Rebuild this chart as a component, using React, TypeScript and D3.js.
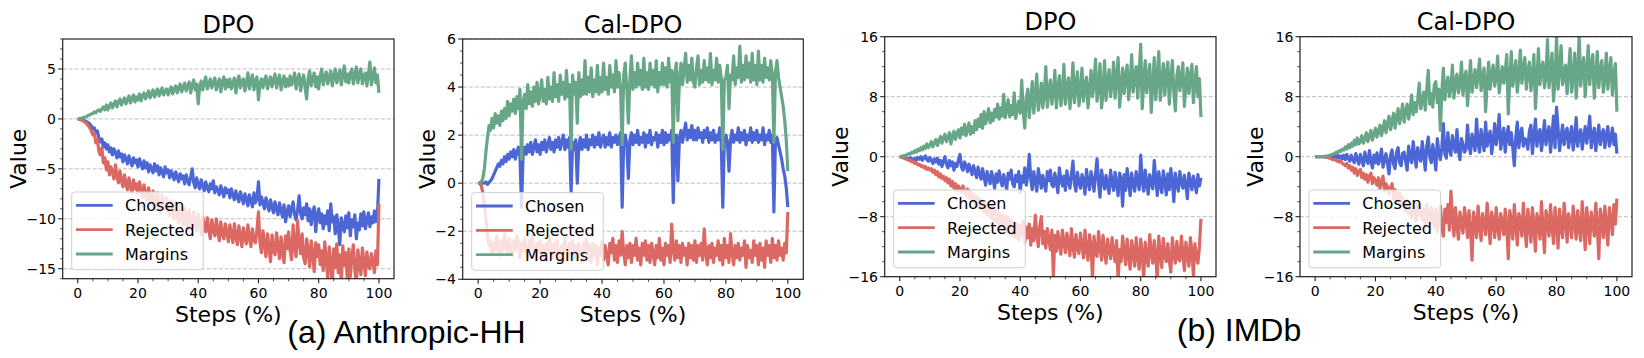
import React from "react";
import * as d3 from "d3";

// ---- data: one value every 0.5% of training (201 points per series) ----
const xTicks = [0, 20, 40, 60, 80, 100];

// Anthropic-HH / DPO
const hhDpoChosen = [
  0, -0.02, -0.05, -0.1, -0.15, -0.2, -0.3, -0.4, -0.5, -0.7, -1.0, -0.9, -1.4, -1.2, -1.9, -2.3, -2.0, -2.8, -2.4, -3.0,
  -2.6, -3.3, -2.9, -3.6, -3.0, -3.4, -3.9, -3.2, -3.8, -3.5, -4.3, -3.6, -4.0, -4.5, -3.7, -4.2, -4.7, -3.9, -4.4, -4.1,
  -4.8, -4.0, -4.5, -5.0, -4.2, -4.9, -4.4, -5.3, -4.6, -5.0, -5.4, -4.5, -5.2, -4.7, -5.6, -4.9, -5.3, -5.8, -4.8, -5.4,
  -5.1, -5.9, -5.2, -5.6, -6.1, -5.3, -5.8, -6.3, -5.5, -6.0, -5.7, -6.5, -5.6, -6.2, -6.6, -5.8, -5.0, -6.4, -6.9, -5.9,
  -6.6, -7.0, -6.1, -6.7, -7.2, -6.3, -6.9, -7.3, -6.5, -7.0, -6.2, -7.4, -6.8, -7.1, -7.6, -6.7, -7.2, -7.8, -6.9, -7.4,
  -7.1, -7.9, -7.0, -7.6, -8.1, -7.2, -7.8, -8.3, -7.3, -7.9, -8.5, -7.5, -8.0, -8.7, -7.6, -8.2, -8.8, -7.4, -8.4, -8.0,
  -6.3, -8.6, -7.8, -8.4, -9.0, -7.9, -8.6, -9.2, -8.1, -8.8, -9.4, -8.3, -9.0, -9.6, -8.4, -9.2, -9.8, -8.6, -10.3, -9.3,
  -8.7, -9.8, -9.0, -8.3, -9.6, -10.1, -9.1, -7.7, -9.5, -10.0, -8.9, -9.6, -8.5, -10.2, -9.0, -10.6, -9.4, -8.8, -11.3, -9.6,
  -9.0, -10.4, -9.5, -11.0, -9.7, -10.5, -9.2, -11.2, -8.5, -10.3, -9.8, -11.5, -9.6, -10.8, -12.6, -9.9, -10.6, -11.3, -9.7, -10.9,
  -9.4, -11.7, -10.1, -10.8, -9.6, -12.0, -10.4, -11.1, -9.5, -10.7, -9.3, -11.0, -10.2, -9.4, -10.8, -9.8, -10.4, -9.2, -10.3, -9.6,
  -6.0,
];
const hhDpoRejected = [
  0, -0.03, -0.08, -0.15, -0.25, -0.35, -0.5, -0.7, -0.9, -1.2, -1.6, -1.4, -2.4, -2.0, -3.2, -3.6, -2.9, -4.4, -3.9, -5.1,
  -4.3, -5.6, -4.8, -5.3, -6.0, -4.6, -5.7, -6.4, -5.2, -6.2, -6.8, -5.6, -6.5, -7.1, -5.9, -6.7, -7.4, -6.1, -7.0, -6.5,
  -7.5, -6.3, -7.1, -7.9, -6.6, -7.6, -8.2, -6.9, -7.8, -8.5, -7.2, -8.0, -8.9, -7.4, -8.6, -9.4, -7.6, -8.7, -9.1, -7.9,
  -9.0, -9.7, -8.2, -9.2, -10.0, -8.4, -9.5, -10.4, -8.7, -9.8, -10.6, -8.9, -10.1, -11.0, -9.1, -10.3, -10.8, -9.3, -10.5, -11.2,
  -9.5, -10.6, -11.6, -9.8, -10.9, -11.3, -9.9, -11.0, -12.0, -10.1, -11.2, -11.7, -10.0, -11.3, -12.2, -10.3, -11.5, -12.0, -10.5, -11.4,
  -12.3, -10.6, -11.6, -12.4, -10.5, -11.8, -12.6, -10.7, -11.7, -12.8, -10.9, -12.0, -12.5, -10.6, -11.9, -12.8, -11.0, -12.2, -12.4, -11.1,
  -9.3, -12.4, -13.4, -11.2, -12.6, -13.8, -11.5, -12.9, -14.3, -11.6, -13.2, -13.6, -11.4, -12.8, -14.0, -11.8, -13.3, -14.4, -11.7, -13.0,
  -11.3, -13.2, -14.1, -10.6, -12.9, -13.8, -10.2, -12.4, -13.5, -11.5, -13.9, -14.5, -12.0, -13.3, -14.8, -12.2, -13.6, -15.3, -12.4, -13.8,
  -12.6, -14.6, -13.2, -15.2, -12.3, -14.1, -16.0, -12.8, -14.4, -16.8, -13.0, -14.9, -12.5, -15.4, -13.6, -16.5, -12.7, -14.7, -13.4, -16.2,
  -13.0, -15.8, -13.8, -12.6, -15.1, -16.6, -13.1, -14.6, -15.6, -12.9, -14.3, -15.7, -13.3, -14.8, -15.0, -13.5, -14.2, -15.4, -13.2, -14.6,
  -8.5,
];
const hhDpoMargins = [
  0, 0.02, 0.05, 0.1, 0.15, 0.2, 0.25, 0.35, 0.4, 0.5, 0.55, 0.7, 0.6, 0.8, 0.9, 0.75, 1.0, 1.2, 0.9, 1.4,
  0.9, 1.3, 1.6, 1.1, 1.5, 1.8, 1.2, 1.7, 2.0, 1.4, 1.8, 2.1, 1.5, 1.9, 2.3, 1.6, 2.0, 2.4, 1.7, 2.2,
  1.9, 2.5, 1.8, 2.3, 2.6, 2.0, 2.4, 2.8, 2.1, 2.5, 2.9, 2.2, 2.6, 3.0, 2.3, 2.7, 3.1, 2.4, 2.8, 3.0,
  2.4, 2.9, 3.2, 2.5, 3.0, 3.3, 2.6, 3.1, 3.5, 2.7, 3.2, 3.6, 2.8, 3.3, 3.7, 2.6, 3.4, 3.9, 2.9, 3.5,
  1.5, 3.3, 3.8, 2.9, 3.6, 4.2, 3.0, 3.5, 4.0, 3.1, 3.7, 4.1, 2.9, 3.6, 4.0, 2.7, 3.7, 4.2, 3.0, 3.9,
  3.2, 4.0, 3.0, 3.6, 4.1, 2.6, 3.7, 4.3, 3.1, 3.8, 4.0, 2.8, 3.6, 4.6, 3.0, 3.9, 4.4, 2.9, 3.8, 4.2,
  1.9, 3.6, 4.0, 3.1, 3.9, 4.3, 3.0, 3.7, 4.2, 3.2, 3.9, 4.5, 3.1, 3.8, 4.4, 2.9, 3.7, 4.3, 3.2, 4.0,
  3.3, 4.3, 3.4, 3.9, 4.6, 3.0, 4.0, 4.5, 2.8, 3.8, 4.4, 3.1, 2.0, 4.1, 4.8, 3.3, 4.0, 4.6, 3.2, 4.2,
  3.0, 4.3, 5.0, 3.4, 4.1, 4.7, 3.5, 4.2, 4.8, 3.3, 4.3, 5.0, 3.6, 4.2, 4.9, 3.4, 4.4, 5.3, 3.7, 4.5,
  3.6, 4.6, 5.0, 3.5, 4.4, 5.2, 3.6, 4.5, 5.0, 3.5, 4.3, 4.6, 3.3, 4.5, 5.7, 3.4, 4.2, 5.1, 3.6, 4.4,
  2.6,
];

// Anthropic-HH / Cal-DPO
const hhCalChosen = [
  0, 0, 0, 0.02, 0, 0.05, -0.05, 0.03, 0.1, 0.2, 0.35, 0.5, 0.65, 0.8, 0.7, 0.95, 0.8, 1.1, 0.9, 1.2,
  1.0, 1.3, 1.1, 1.4, 1.0, 1.3, 1.5, 1.1, -1.0, 1.2, 1.5, 1.2, 1.6, 1.3, 1.7, 1.2, 1.5, 1.8, 1.3, 1.6,
  1.2, 1.7, 1.4, 1.8, 1.3, 1.6, 1.9, 1.4, 1.7, 1.3, 1.8, 1.5, 1.9, 1.4, 1.7, 2.0, 1.4, 1.8, 1.5, 1.9,
  -0.4, 1.7, 1.4, 1.8, 0.0, 1.6, 1.9, 1.4, 1.8, 1.5, 2.0, 1.4, 1.8, 1.6, 2.0, 1.5, 1.9, 1.6, 2.1, 1.5,
  1.8, 2.0, 1.5, 1.9, 1.6, 2.1, 1.5, 1.9, 1.7, 2.0, 1.6, 1.9, 2.1, -1.0, 1.7, 2.0, 1.6, 0.2, 1.8, 2.1,
  1.6, 2.0, 1.7, 2.2, 1.6, 1.9, 1.7, 2.1, 1.5, 2.0, 1.7, 2.2, 1.6, 1.9, 1.8, 2.1, 1.5, 2.0, 1.7, 2.2,
  1.6, 2.1, 1.7, 2.0, 1.8, 2.2, -0.8, 1.8, 2.0, 0.1, 1.9, 2.2, 1.7, 2.1, 2.5, 1.8, 2.2, 1.9, 2.4, 1.8,
  2.2, 1.8, 2.3, 1.9, 2.1, 1.7, 2.2, 1.9, 2.3, 1.7, 2.1, 1.8, 2.2, 1.7, 2.0, 1.8, 2.3, 1.7, -1.0, 1.8,
  2.0, 1.7, 0.5, 1.8, 2.2, 1.7, 2.0, 1.8, 2.3, 1.7, 2.1, 1.8, 2.2, 1.6, 2.0, 1.8, 2.3, 1.7, 2.1, 1.8,
  2.2, 1.7, 2.0, 1.8, 2.3, 1.6, 2.0, 1.8, 2.2, 1.7, 2.0, -1.2, 1.8, 1.9, 1.6, 1.3, 1.0, 0.6, 0.3, -0.2,
  -1.0,
];
const hhCalRejected = [
  0, 0, -0.1, -0.4, -0.9, -1.5, -2.1, -2.6, -2.4, -2.9, -2.5, -2.8, -2.2, -2.7, -3.0, -2.4, -2.8, -2.1, -2.6, -2.9,
  -2.3, -2.7, -3.0, -2.4, -2.8, -2.2, -2.6, -3.1, -2.5, -2.8, -2.3, -2.9, -3.1, -2.4, -2.7, -2.2, -2.9, -3.2, -2.5, -2.8,
  -2.4, -3.0, -2.6, -3.2, -2.5, -2.9, -2.2, -2.8, -3.1, -2.5, -2.9, -2.4, -3.0, -3.3, -2.6, -2.9, -2.3, -2.8, -3.2, -2.5,
  -2.9, -2.4, -3.1, -2.6, -3.2, -2.5, -2.9, -3.3, -2.5, -2.8, -2.3, -3.1, -2.6, -3.3, -2.5, -3.0, -2.6, -3.4, -2.7, -3.0,
  -2.4, -3.2, -2.6, -3.0, -3.4, -2.5, -2.9, -2.3, -3.2, -2.6, -3.3, -2.4, -3.0, -2.0, -2.9, -3.4, -2.6, -3.1, -2.5, -3.3,
  -2.6, -3.0, -2.3, -3.2, -2.7, -3.4, -2.5, -3.0, -2.4, -3.2, -2.6, -3.3, -2.5, -2.9, -3.4, -2.6, -3.1, -2.3, -3.2, -2.7,
  -3.4, -2.5, -3.0, -2.6, -3.3, -1.7, -2.8, -3.2, -2.4, -3.1, -2.6, -3.3, -2.5, -3.0, -2.7, -3.4, -2.5, -3.1, -2.6, -3.2,
  -2.4, -3.3, -2.6, -3.0, -2.5, -3.2, -1.9, -2.9, -3.4, -2.6, -3.1, -2.5, -3.3, -2.7, -3.0, -2.4, -3.2, -2.6, -3.4, -2.3,
  -3.1, -2.6, -3.3, -2.1, -2.9, -3.4, -2.6, -3.1, -2.5, -3.2, -2.7, -3.0, -2.4, -3.5, -2.6, -3.1, -2.8, -3.3, -2.4, -3.0,
  -2.6, -3.4, -2.5, -3.2, -2.7, -3.5, -2.4, -3.0, -2.6, -3.3, -2.3, -3.1, -2.6, -3.2, -2.4, -3.0, -2.7, -3.2, -2.5, -2.9,
  -1.2,
];
const hhCalMargins = [
  0, 0, 0.05, 0.2, 0.6, 1.3, 1.9, 2.4, 2.2, 2.7, 2.3, 2.9, 2.5, 2.8, 2.4, 3.0, 2.6, 3.1, 2.7, 3.4,
  2.8, 3.3, 3.0, 3.5, 2.9, 3.6, 3.1, 3.9, 1.0, 3.4, 3.7, 3.1, 4.1, 3.3, 3.8, 3.2, 4.0, 3.4, 4.2, 3.3,
  3.7, 4.3, 3.4, 3.9, 3.3, 4.4, 3.5, 4.0, 3.4, 4.6, 3.6, 4.1, 3.4, 4.5, 3.7, 4.2, 3.5, 4.7, 3.6, 4.1,
  1.4, 4.5, 3.7, 4.2, 2.5, 4.6, 3.6, 4.3, 3.7, 5.1, 3.7, 4.4, 3.8, 4.8, 3.6, 4.3, 3.8, 4.9, 3.7, 4.4,
  3.8, 5.0, 3.9, 4.4, 3.7, 4.9, 4.0, 4.5, 3.8, 5.1, 4.0, 4.6, 3.9, 1.6, 4.5, 5.0, 3.9, 2.5, 4.3, 5.3,
  3.9, 4.6, 4.0, 5.0, 4.1, 4.7, 3.9, 5.2, 4.0, 4.6, 3.9, 5.0, 4.1, 4.7, 4.0, 5.1, 3.8, 4.6, 4.1, 5.0,
  4.1, 4.8, 4.0, 5.2, 4.2, 4.7, 1.7, 4.5, 5.0, 2.6, 4.3, 5.0, 4.1, 4.8, 5.4, 4.2, 4.9, 4.3, 5.2, 4.2,
  4.0, 4.8, 5.3, 4.1, 4.7, 4.2, 5.1, 4.3, 4.8, 4.2, 5.4, 4.1, 4.7, 4.3, 5.2, 4.2, 4.9, 4.4, 1.4, 4.3,
  4.4, 4.9, 3.1, 4.5, 4.3, 5.3, 4.1, 4.8, 4.4, 5.7, 4.2, 4.9, 4.3, 5.3, 4.4, 5.0, 4.2, 5.4, 4.3, 4.9,
  4.1, 5.5, 4.3, 4.9, 4.2, 5.2, 4.4, 4.8, 4.3, 5.1, 4.5, 1.7, 4.6, 5.1, 4.4, 4.0, 3.6, 3.2, 2.6, 1.8,
  0.5,
];

// IMDb / DPO
const imdbDpoChosen = [
  0, -0.02, -0.05, -0.1, -0.15, -0.2, -0.25, -0.15, -0.3, -0.4, -0.2, -0.45, -0.1, -0.35, 0.0, -0.5, -0.2, 0.1, -0.4, -0.6,
  -0.1, -0.5, -0.9, -0.3, -0.7, -0.2, -1.0, -0.5, -1.3, -0.6, 0.0, -1.0, -1.5, -0.5, -1.2, -0.7, -1.8, -0.9, -1.3, -0.4,
  0.3, -1.4, -1.8, -0.7, -1.2, -2.0, -1.0, -1.6, -2.4, -1.2, -2.0, -2.8, -1.4, -2.2, -3.0, -1.6, -2.6, -3.8, -2.0, -2.8,
  -3.6, -2.0, -3.0, -4.2, -2.3, -3.4, -1.9, -3.0, -3.9, -2.4, -3.2, -4.4, -2.2, -3.0, -1.8, -3.6, -4.0, -2.5, -3.3, -2.0,
  -4.8, -2.6, -3.4, -1.5, -3.8, -2.4, 0.3, -3.0, -4.4, -2.0, -3.2, -4.6, -1.6, -2.8, -4.2, -2.5, -3.6, -4.6, -2.0, -3.2,
  -1.8, -3.8, -4.0, -2.2, -3.4, -4.8, -1.5, -3.0, -3.9, -2.6, -4.5, -1.9, -3.2, -4.2, -2.4, -0.6, -3.6, -4.6, -2.1, -3.4,
  -4.2, -2.4, -3.2, -5.0, -1.7, -3.4, -4.4, -2.0, -3.0, -4.6, -2.3, -0.3, -3.6, -5.4, -1.8, -3.2, -4.3, -2.5, -3.8, -4.9,
  -1.8, -3.4, -4.5, -2.1, -3.6, -5.2, -2.2, -3.0, -6.6, -2.4, -4.5, -1.6, -3.3, -5.2, -2.2, -3.7, -4.6, -2.0, -3.4, -4.4,
  0.2, -3.2, -4.6, -1.8, -3.6, -5.0, -2.4, -3.5, -4.3, -0.5, -3.0, -5.2, -2.0, -3.8, -4.8, -1.9, -3.3, -5.1, -2.3, -4.4,
  -1.6, -3.2, -6.0, -2.2, -3.6, -4.6, -2.0, -3.4, -4.2, -2.5, -3.8, -5.6, -2.2, -3.2, -4.4, -2.6, -3.6, -4.8, -2.4, -3.9,
  -2.8,
];
const imdbDpoRejected = [
  0, -0.05, -0.1, -0.2, -0.3, -0.35, -0.5, -0.45, -0.7, -0.6, -0.9, -0.8, -1.1, -1.0, -1.3, -1.2, -1.5, -1.3, -1.7, -1.5,
  -1.8, -1.6, -2.1, -1.8, -2.4, -2.0, -2.7, -2.3, -2.9, -2.6, -3.2, -2.8, -3.5, -3.0, -3.9, -3.3, -4.2, -3.6, -4.5, -3.9,
  -4.3, -4.7, -3.9, -4.8, -5.2, -4.3, -5.5, -4.6, -5.8, -5.0, -6.3, -5.3, -6.6, -5.6, -7.0, -5.9, -7.3, -6.2, -7.7, -6.5,
  -7.0, -8.2, -6.8, -8.6, -7.2, -8.9, -7.5, -9.3, -7.8, -9.7, -8.0, -10.0, -8.2, -10.3, -8.5, -10.6, -8.8, -10.8, -9.0, -11.2,
  -9.2, -10.4, -8.6, -11.5, -9.4, -10.8, -9.0, -11.8, -9.6, -11.2, -7.8, -10.4, -12.0, -9.2, -8.0, -11.6, -10.0, -12.2, -9.6, -11.0,
  -12.4, -9.8, -16.0, -10.5, -12.6, -10.0, -11.8, -13.0, -9.8, -11.4, -12.8, -10.2, -11.6, -13.2, -9.6, -12.0, -13.4, -10.4, -12.2, -12.9,
  -10.2, -11.8, -13.5, -9.8, -12.4, -13.8, -10.4, -12.0, -16.2, -10.6, -12.8, -13.3, -10.0, -11.9, -13.8, -10.5, -12.6, -14.2, -11.0, -12.4,
  -13.6, -10.8, -12.8, -14.0, -11.2, -16.5, -12.4, -14.0, -10.6, -12.6, -14.4, -11.0, -13.2, -15.0, -11.2, -12.8, -14.6, -10.8, -13.4, -15.0,
  -11.0, -13.0, -16.3, -11.4, -13.6, -14.6, -10.4, -12.8, -14.2, -11.2, -13.4, -16.4, -10.6, -12.9, -14.8, -10.9, -13.2, -14.0, -11.6, -13.8,
  -15.4, -10.8, -13.0, -14.2, -11.3, -13.6, -13.9, -10.6, -12.8, -15.2, -11.4, -13.0, -14.6, -10.8, -12.6, -15.8, -11.6, -13.4, -14.2, -12.0,
  -8.3,
];
const imdbDpoMargins = [
  0, 0.05, 0.1, 0.15, 0.2, 0.3, 0.4, 0.35, 0.6, 0.5, 0.8, 0.6, 1.0, 0.8, 1.2, 0.9, 1.4, 1.1, 1.7, 1.2,
  1.5, 2.0, 1.3, 1.8, 2.3, 1.5, 2.1, 2.7, 1.8, 2.5, 3.0, 2.0, 2.6, 3.2, 1.7, 2.8, 3.4, 2.3, 3.1, 3.6,
  2.5, 3.8, 3.0, 4.3, 2.8, 3.6, 4.5, 3.0, 4.0, 3.2, 4.8, 3.6, 5.0, 4.0, 5.6, 3.8, 6.0, 4.4, 5.2, 6.4,
  4.5, 5.8, 4.8, 6.3, 5.3, 7.0, 5.0, 6.5, 5.4, 8.3, 5.2, 6.2, 7.6, 5.3, 6.8, 5.6, 8.5, 5.1, 6.4, 7.4,
  5.8, 10.2, 6.0, 3.8, 7.8, 9.0, 5.2, 7.5, 10.0, 5.8, 8.2, 11.0, 6.2, 7.6, 9.8, 6.5, 8.4, 12.0, 6.6, 8.8,
  10.2, 7.0, 8.6, 11.5, 6.5, 9.0, 10.8, 6.8, 8.4, 12.3, 7.0, 9.2, 10.5, 6.4, 8.8, 12.5, 7.2, 9.4, 11.3, 6.8,
  8.6, 11.8, 7.4, 9.6, 10.6, 6.5, 8.8, 11.5, 8.0, 9.8, 13.0, 7.4, 9.2, 12.4, 6.5, 8.6, 12.8, 7.5, 10.0, 11.6,
  8.0, 9.6, 12.6, 7.8, 10.4, 13.2, 6.6, 9.4, 11.8, 8.4, 10.8, 12.2, 7.6, 9.8, 13.6, 8.6, 10.6, 12.0, 7.8, 11.2,
  15.0, 6.4, 9.8, 12.8, 8.5, 10.6, 12.3, 5.9, 9.6, 13.2, 7.6, 10.4, 14.0, 7.5, 9.8, 12.4, 8.2, 11.0, 12.6, 7.0,
  10.2, 12.8, 8.6, 6.1, 10.8, 12.0, 8.8, 10.4, 12.5, 6.7, 9.6, 11.8, 8.4, 10.6, 12.3, 7.2, 9.8, 12.0, 8.0, 10.4,
  5.3,
];

// IMDb / Cal-DPO
const imdbCalChosen = [
  0, 0, 0, 0, 0, 0, 0, 0.02, -0.02, 0.05, -0.05, 0.1, -0.1, 0.15, -0.15, 0.2, -0.2, 0.1, -0.3, 0.2,
  -0.4, 0.3, -0.2, -0.6, 0.2, -0.4, -0.8, 0.4, -0.3, -1.0, 0.3, -0.5, -1.2, 0.6, -0.4, -0.9, 0.8, -0.6, -1.5, 0.2,
  -0.8, 0.5, -1.0, -0.2, 1.0, -1.4, -0.4, 0.4, -0.9, -2.3, 0.2, 0.9, -1.0, -1.6, 0.6, 1.2, -0.8, -1.2, 0.4, 0.6,
  -0.6, -1.8, 1.4, -0.2, -0.8, 2.0, 0.2, -1.4, 1.2, 0.0, -0.6, 2.0, 0.4, -1.8, 1.4, 2.6, 0.0, -0.8, 1.6, 0.2,
  -1.8, 2.4, 0.6, -0.4, 1.2, 4.4, 0.4, -0.2, 3.2, 1.0, 0.2, 2.8, 1.4, 0.6, 3.6, 0.8, -0.4, 2.4, 1.6, 0.6,
  1.0, 4.2, 1.4, 0.4, 3.0, 2.0, 0.8, 5.0, 1.8, 0.6, 3.6, 2.2, 0.8, 4.6, 1.4, 2.6, 3.4, 0.4, 2.0, 4.4,
  1.6, 3.0, 5.6, 1.0, 2.4, 3.8, 0.6, 2.8, 4.0, 1.6, 3.2, 1.2, -1.2, 2.6, 4.6, 1.2, 3.0, 3.8, 1.4, 2.4,
  2.2, 1.0, 3.4, 4.2, 0.4, 2.8, 5.0, 1.4, 3.2, 3.6, 0.8, 2.6, 4.8, 1.6, 3.0, 4.0, 0.6, 2.8, 5.4, 1.2,
  6.6, 3.8, 0.8, 2.6, 4.2, 1.6, 3.2, 3.8, 1.2, 2.8, 4.0, 0.9, 2.4, 5.2, 1.4, 3.0, 3.6, 1.0, 2.6, 4.0,
  1.8, 3.2, 5.4, 1.2, 2.8, 3.8, 0.8, 2.6, 4.2, 1.6, 3.0, 3.6, 1.2, 2.8, 4.0, 1.4, 2.4, 3.8, 1.6, 3.0,
  0.4,
];
const imdbCalRejected = [
  0, 0, 0, 0, 0, 0, -0.02, -0.05, -0.1, -0.15, -0.2, -0.3, -0.4, -0.35, -0.5, -0.6, -0.7, -0.6, -0.9, -1.0,
  -1.2, -0.9, -1.5, -1.2, -1.8, -1.4, -2.2, -1.6, -2.5, -2.0, -1.7, -2.8, -2.2, -3.0, -2.4, -3.4, -2.6, -2.2, -3.6, -2.8,
  -3.2, -3.8, -2.8, -4.2, -3.4, -2.6, -4.6, -3.6, -4.0, -5.0, -4.2, -3.6, -5.6, -4.4, -5.8, -6.2, -4.8, -6.4, -5.4, -6.8,
  -7.2, -5.8, -7.6, -6.4, -8.2, -6.0, -7.4, -8.6, -6.2, -7.8, -6.6, -8.4, -7.0, -9.2, -6.4, -8.0, -9.0, -6.8, -8.2, -9.4,
  -7.0, -10.0, -8.2, -6.6, -9.4, -10.6, -7.0, -8.8, -6.4, -9.8, -4.6, -8.0, -10.6, -6.8, -9.2, -11.0, -7.4, -8.6, -10.2, -6.8,
  -8.4, -10.8, -7.2, -9.6, -13.8, -7.4, -8.8, -10.8, -6.6, -9.2, -11.2, -7.6, -8.8, -10.4, -6.2, -9.0, -11.6, -7.4, -8.6, -10.8,
  -6.8, -9.4, -11.0, -7.6, -8.8, -10.4, -7.0, -9.2, -13.6, -7.2, -8.6, -11.0, -6.4, -9.0, -11.8, -7.6, -8.4, -10.6, -6.2, -9.4,
  -12.0, -7.0, -8.8, -11.4, -6.8, -9.2, -12.6, -7.6, -8.6, -11.0, -6.0, -9.6, -12.8, -7.2, -8.4, -10.6, -6.4, -9.2, -11.6, -6.8,
  -8.8, -12.2, -7.0, -9.4, -10.8, -6.2, -8.6, -11.4, -7.6, -9.0, -10.8, -6.6, -8.8, -11.0, -7.2, -9.4, -11.2, -6.0, -8.8, -12.4,
  -6.8, -9.0, -11.6, -7.4, -8.6, -10.6, -6.2, -9.2, -13.6, -7.0, -8.4, -10.8, -6.6, -9.4, -11.8, -6.8, -8.2, -10.4, -6.4, -9.0,
  -5.6,
];
const imdbCalMargins = [
  0, 0, 0, 0, 0, 0.02, 0.05, 0.05, 0.1, 0.15, 0.2, 0.3, 0.35, 0.45, 0.6, 0.5, 0.8, 0.7, 1.0, 0.9,
  1.3, 1.0, 1.6, 1.2, 1.8, 1.4, 2.2, 1.6, 2.5, 1.7, 2.0, 2.8, 1.8, 2.4, 3.2, 2.0, 2.8, 3.5, 2.2, 3.0,
  3.8, 2.6, 3.4, 4.2, 2.8, 3.8, 4.8, 3.2, 4.4, 5.4, 3.6, 4.6, 5.8, 3.8, 5.2, 6.4, 4.4, 5.6, 7.0, 4.6,
  6.0, 7.0, 5.0, 6.4, 8.2, 5.6, 7.2, 6.0, 7.6, 9.8, 6.4, 7.4, 8.6, 6.2, 9.0, 11.5, 7.0, 8.4, 6.6, 9.6,
  10.0, 7.2, 9.0, 3.5, 8.6, 11.8, 7.6, 9.4, 10.6, 8.0, 9.2, 12.2, 7.8, 10.0, 11.0, 8.5, 9.6, 12.6, 8.2, 10.4,
  11.4, 6.8, 9.8, 12.8, 8.6, 10.2, 11.6, 9.2, 10.8, 13.0, 8.8, 10.6, 11.8, 6.0, 9.8, 12.6, 9.0, 11.0, 12.2, 9.4,
  10.6, 13.4, 8.5, 10.4, 12.0, 9.8, 11.2, 13.6, 5.7, 10.2, 14.0, 9.4, 11.0, 12.8, 8.6, 10.8, 14.2, 9.8, 11.6, 13.2,
  9.0, 11.4, 12.6, 8.8, 10.6, 13.6, 6.4, 10.2, 14.4, 9.6, 11.8, 12.6, 9.2, 10.6, 15.6, 9.2, 11.2, 13.8, 7.4, 10.4,
  16.0, 9.0, 11.6, 14.8, 9.6, 10.8, 12.2, 8.4, 11.4, 14.4, 8.6, 10.6, 13.8, 7.8, 11.0, 16.2, 9.4, 12.0, 13.2, 8.0,
  11.2, 14.8, 9.6, 12.0, 13.6, 7.8, 10.8, 14.0, 9.2, 11.6, 12.8, 8.6, 10.4, 13.8, 9.0, 11.4, 13.2, 8.2, 11.0, 12.4,
  6.0,
];

const seriesNames = ["Chosen", "Rejected", "Margins"];
const seriesColors = ["#4c66d6", "#db6862", "#68a688"];

const panels = [
  { title: "DPO", box: [62.7, 39, 394, 278.7], yDomain: [-16, 8], yTicks: [-15, -10, -5, 0, 5], yMinor: 1, labelGap: 36.7,
    series: [hhDpoChosen, hhDpoRejected, hhDpoMargins] },
  { title: "Cal-DPO", box: [462.7, 39, 803.3, 279.3], yDomain: [-4, 6], yTicks: [-4, -2, 0, 2, 4, 6], yMinor: 0.5, labelGap: 27.7,
    series: [hhCalChosen, hhCalRejected, hhCalMargins] },
  { title: "DPO", box: [884.7, 36.7, 1216, 276.7], yDomain: [-16, 16], yTicks: [-16, -8, 0, 8, 16], yMinor: 2, labelGap: 36.4,
    series: [imdbDpoChosen, imdbDpoRejected, imdbDpoMargins] },
  { title: "Cal-DPO", box: [1300, 36.7, 1632, 276.7], yDomain: [-16, 16], yTicks: [-16, -8, 0, 8, 16], yMinor: 2, labelGap: 36.7,
    series: [imdbCalChosen, imdbCalRejected, imdbCalMargins] },
];

const FONT = "DejaVu Sans, sans-serif";
const fmt = (v: number) => (v < 0 ? "\u2212" + Math.abs(v) : String(v));

function Panel({ p, idx }: { p: any; idx: number }) {
  const [l, t, r, b] = p.box;
  const x = d3.scaleLinear().domain([-5, 105]).range([l, r]);
  const y = d3.scaleLinear().domain(p.yDomain).range([b, t]);
  const line = d3.line<number>().x((_, i) => x(i / 2)).y((d) => y(d));
  const xMinor = d3.range(0, 100.01, 5).filter((v) => !xTicks.includes(v));
  const yMinor = d3.range(p.yDomain[0], p.yDomain[1] + 1e-6, p.yMinor)
    .filter((v: number) => !p.yTicks.some((tk: number) => Math.abs(tk - v) < 1e-6));
  const clipId = `clip${idx}`;
  const lg = { x: l + 9, y: b - 9 - 77.7, w: 131.6, h: 77.7 };
  const cx = (l + r) / 2;
  const cy = (t + b) / 2;
  return (
    <g>
      <defs>
        <clipPath id={clipId}>
          <rect x={l} y={t} width={r - l} height={b - t} />
        </clipPath>
      </defs>
      {p.yTicks.map((v: number) => (
        <line key={"g" + v} x1={l} x2={r} y1={y(v)} y2={y(v)} stroke="#b5b5b5" strokeWidth={0.9} strokeDasharray="4,2" />
      ))}
      <g clipPath={`url(#${clipId})`}>
        {p.series.map((s: number[], i: number) => (
          <path key={i} d={line(s) || ""} fill="none" stroke={seriesColors[i]} strokeWidth={3.2} strokeLinejoin="round" />
        ))}
      </g>
      <rect x={l} y={t} width={r - l} height={b - t} fill="none" stroke="#222" strokeWidth={1.2} />
      {xTicks.map((v) => (
        <g key={"xt" + v}>
          <line x1={x(v)} x2={x(v)} y1={b} y2={b + 4.5} stroke="#222" strokeWidth={1.1} />
          <text x={x(v)} y={b + 18.8} textAnchor="middle" fontSize={14} fontFamily={FONT}>{fmt(v)}</text>
        </g>
      ))}
      {xMinor.map((v) => (
        <line key={"xm" + v} x1={x(v)} x2={x(v)} y1={b} y2={b + 2.6} stroke="#222" strokeWidth={0.8} />
      ))}
      {p.yTicks.map((v: number) => (
        <g key={"yt" + v}>
          <line x1={l - 4.5} x2={l} y1={y(v)} y2={y(v)} stroke="#222" strokeWidth={1.1} />
          <text x={l - 6.7} y={y(v) + 5.1} textAnchor="end" fontSize={14} fontFamily={FONT}>{fmt(v)}</text>
        </g>
      ))}
      {yMinor.map((v: number) => (
        <line key={"ym" + v} x1={l - 2.6} x2={l} y1={y(v)} y2={y(v)} stroke="#222" strokeWidth={0.8} />
      ))}
      <text x={cx} y={t - 6.3} textAnchor="middle" fontSize={24} fontFamily={FONT}>{p.title}</text>
      <text x={cx} y={b + 43} textAnchor="middle" fontSize={22} fontFamily={FONT}>Steps (%)</text>
      <text transform={`translate(${l - p.labelGap},${cy}) rotate(-90)`} textAnchor="middle" fontSize={22} fontFamily={FONT}>Value</text>
      <rect x={lg.x} y={lg.y} width={lg.w} height={lg.h} rx={3} fill="#fff" fillOpacity={0.8} stroke="#d0d0d0" strokeWidth={1} />
      {seriesNames.map((n, i) => {
        const ry = lg.y + 13.4 + i * 24.3;
        return (
          <g key={n}>
            <line x1={lg.x + 4.3} x2={lg.x + 41} y1={ry} y2={ry} stroke={seriesColors[i]} strokeWidth={2.8} />
            <text x={lg.x + 53.3} y={ry + 6} fontSize={16} fontFamily={FONT}>{n}</text>
          </g>
        );
      })}
    </g>
  );
}

export default function App() {
  return (
    <svg width={1644} height={358} style={{ position: "absolute", left: 0, top: 0, background: "#fff" }}>
      <rect width={1644} height={358} fill="#fff" />
      {panels.map((p, i) => (
        <Panel key={i} p={p} idx={i} />
      ))}
      <text x={406.5} y={343} textAnchor="middle" fontSize={32} fontFamily="Liberation Sans, Arial, sans-serif">(a) Anthropic-HH</text>
      <text x={1239} y={341} textAnchor="middle" fontSize={32} fontFamily="Liberation Sans, Arial, sans-serif">(b) IMDb</text>
    </svg>
  );
}
